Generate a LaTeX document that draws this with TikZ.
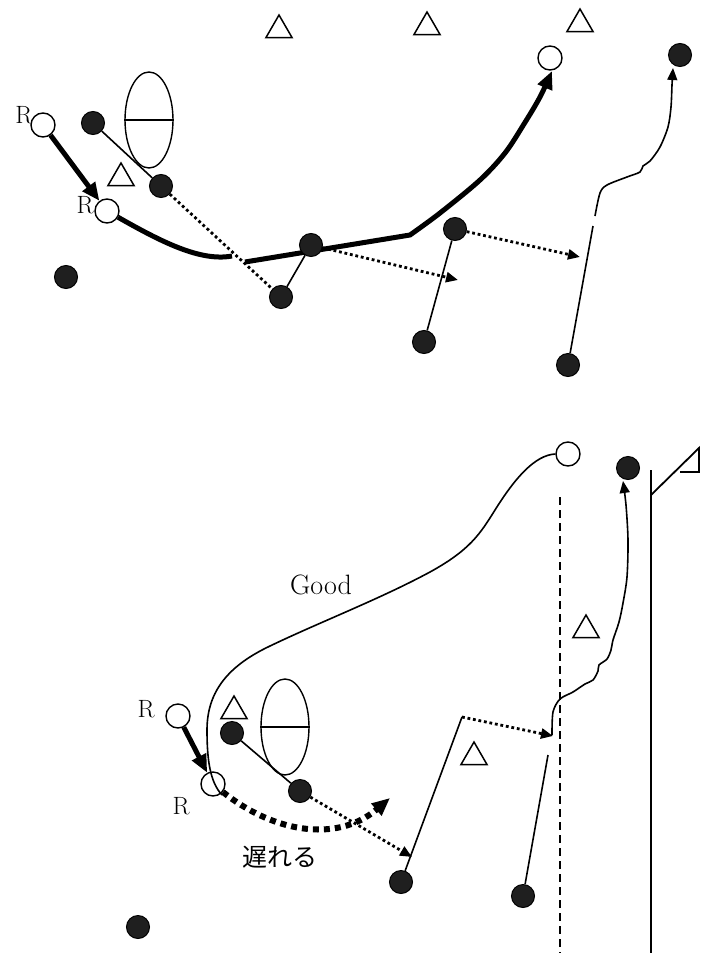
\documentclass[tikz,border=0pt]{standalone}
\usepackage{fontspec}
\newfontfamily\cjk{Noto Sans CJK JP}
\usetikzlibrary{arrows.meta,shapes.geometric,backgrounds}
\begin{document}
\begin{tikzpicture}[x=1pt,y=-1pt,
  dot/.style={circle,draw=black,fill=black!88,line width=1pt,inner sep=0pt,minimum size=23pt},
  ring/.style={circle,draw=black,fill=white,line width=1.4pt,inner sep=0pt,minimum size=24pt},
  cone/.style={regular polygon,regular polygon sides=3,draw=black,fill=white,line width=1.5pt,inner sep=0pt,minimum size=30pt},
  oval/.style={ellipse,draw=black,line width=1.4pt,inner sep=0pt,minimum width=48pt,minimum height=96pt},
  lab/.style={inner sep=0pt,font=\fontsize{25}{25}\selectfont},
  thinline/.style={line width=1.6pt},
  thickline/.style={line width=5pt},
  dotline/.style={line width=2.8pt,dash pattern=on 2.8pt off 2.8pt},
  bigdots/.style={line width=6pt,dash pattern=on 6pt off 5pt},
  dashline/.style={line width=1.8pt,dash pattern=on 8pt off 5pt},
  smalltip/.style={-{Triangle[length=12pt,width=10pt]}},
  bigtip/.style={-{Triangle[length=18pt,width=15pt]}},
]
\useasboundingbox (0,0) rectangle (715,953);

% ---------------- upper play ----------------
\node[cone] (t1) at (279,30) {};
\node[cone] (t2) at (427,27) {};
\node[cone] (t3) at (580,24) {};
\node[cone] (t4) at (121,178) {};
\node[lab] (lr1) at (24,115) {R};
\node[lab] (lr2) at (85,205) {R};
\node[ring] (r1) at (43,125) {};
\node[ring] (r2) at (107,211) {};
\node[ring] (r3) at (550,58) {};
\node[dot] (a1) at (93,123) {};
\node[dot] (a2) at (161,186) {};
\node[dot] (a3) at (66,277) {};
\node[dot] (a4) at (311,245) {};
\node[dot] (a5) at (281,297) {};
\node[dot] (a6) at (455,229) {};
\node[dot] (a7) at (424,342) {};
\node[dot] (a8) at (568,365) {};
\node[dot] (a9) at (680,55) {};
\node[oval] (e1) at (149,120) {};
\draw[line width=1.4pt] (e1.west) -- (e1.east);

\coordinate (gapA) at (232,256);
\coordinate (gapB) at (245,262);
\coordinate (bend) at (410,235);
\coordinate (runEnd) at (552,71);
\coordinate (tipA) at (458,280);
\coordinate (tipB) at (580,257);
\coordinate (cutA) at (593,226);
\coordinate (cutB) at (595,216);
\coordinate (tipC) at (673,68);

\begin{pgfonlayer}{background}
  \draw[thickline,bigtip] (r1) -- (r2);
  \draw[thickline] (r2) .. controls (160,241) and (200,262) .. (gapA);
  \draw[thickline,bigtip,line join=miter] (gapB) -- plot[smooth,tension=0.55] coordinates {
    (bend) (440,213) (480,180) (505,153) (524,124) (540,97) (runEnd)};
  \draw[thinline] (a1) -- (a2);
  \draw[dotline] (a2) -- (a5);
  \draw[thinline] (a5) -- (a4);
  \draw[dotline,smalltip] (a4) -- (tipA);
  \draw[thinline] (a7) -- (a6);
  \draw[dotline,smalltip] (a6) -- (tipB);
  \draw[thinline] (a8) -- (cutA);
  \draw[thinline,smalltip] plot[smooth,tension=0.5] coordinates {
    (cutB) (600,193) (607,185) (627,177) (640,172) (643,166) (650,161)
    (660,147) (668,127) (671,107) (672,85) (tipC)};
\end{pgfonlayer}

% ---------------- lower play ----------------
\node[lab] (lr3) at (146,709) {R};
\node[lab] (lr4) at (181,806) {R};
\node[ring] (r4) at (178,716) {};
\node[ring] (r5) at (213,784) {};
\node[ring] (r6) at (568,454) {};
\node[dot] (b1) at (232,733) {};
\node[cone] (t5) at (234,711) {};
\node[dot] (b2) at (300,791) {};
\node[dot] (b3) at (401,882) {};
\node[dot] (b4) at (523,896) {};
\node[dot] (b5) at (628,468) {};
\node[dot] (b6) at (138,927) {};
\node[cone] (t6) at (586,630) {};
\node[cone] (t7) at (474,757) {};
\node[oval] (e2) at (285,727) {};
\draw[line width=1.4pt] (e2.west) -- (e2.east);

\node[inner sep=0pt,font=\fontsize{28}{28}\selectfont] (good) at (321,585) {Good};
\node[inner sep=0pt,font=\cjk\fontsize{25}{25}\selectfont] (late) at (280,857) {遅れる};

\coordinate (lateTip) at (390,798);
\coordinate (tipD) at (412,857);
\coordinate (corner) at (462,717);
\coordinate (tipE) at (553,736);
\coordinate (stopF) at (548,755);
\coordinate (tipF) at (623,481);
\coordinate (dv1) at (560,497);
\coordinate (dv2) at (560,953);
\coordinate (pole1) at (651,470);
\coordinate (pole2) at (651,953);
\coordinate (flagA) at (651,495);
\coordinate (flagB) at (699,448);
\coordinate (flagC) at (699,472);
\coordinate (flagD) at (680,472);
\coordinate (sweepA) at (495,510);
\coordinate (sweepB) at (430,572);
\coordinate (sweepC) at (270,646);
\coordinate (sweepD) at (207,730);
\coordinate (sweepEnd) at (222,795);

\begin{pgfonlayer}{background}
  \draw[thickline,bigtip] (r4) -- (r5);
  \draw[thinline] (b1) -- (b2);
  \draw[dotline,smalltip] (b2) -- (tipD);
  \draw[bigdots,bigtip] (r5) .. controls (270,830) and (335,845) .. (lateTip);
  \draw[thinline] (b3) -- (corner);
  \draw[dotline,smalltip] (corner) -- (tipE);
  \draw[thinline] (b4) -- (stopF);
  \draw[thinline,smalltip] plot[smooth,tension=0.5] coordinates {
    (552,735) (553,712) (560,699) (573,692) (585,684) (593,680) (598,671)
    (599,665) (607,659) (611,650) (613,640) (619,622) (623,603) (627,577)
    (628,540) (626,505) (tipF)};
  \draw[dashline] (dv1) -- (dv2);
  \draw[line width=1.8pt] (pole1) -- (pole2);
  \draw[line width=1.8pt,line join=miter] (flagA) -- (flagB) -- (flagC) -- (flagD);
\end{pgfonlayer}

% the long path that curls round to the far side
\draw[thinline] (r6.west)
  .. controls (535,455) and (515,478) .. (sweepA)
  .. controls (480,534) and (470,550) .. (sweepB)
  .. controls (380,599) and (320,622) .. (sweepC)
  .. controls (230,665) and (207,690) .. (sweepD)
  .. controls (207,760) and (210,782) .. (sweepEnd);
\end{tikzpicture}
\end{document}
